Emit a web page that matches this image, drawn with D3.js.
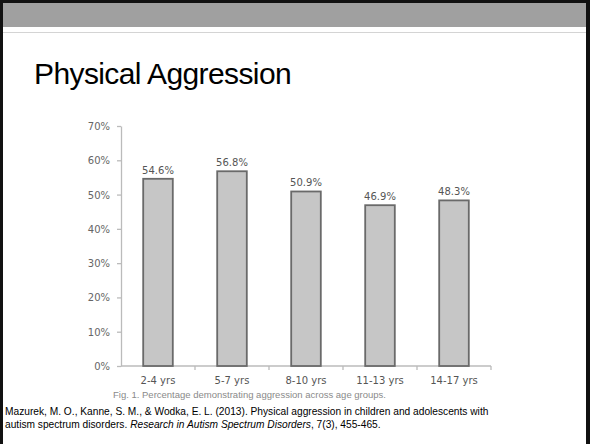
<!DOCTYPE html>
<html><head><meta charset="utf-8">
<script src="https://cdn.jsdelivr.net/npm/d3@7"></script>
<style>html,body{margin:0;padding:0;background:#fff;}svg{display:block;}</style>
</head><body>
<script>
const categories = ["2-4 yrs", "5-7 yrs", "8-10 yrs", "11-13 yrs", "14-17 yrs"];
const values = [54.6, 56.8, 50.9, 46.9, 48.3];
const yTicks = [0, 10, 20, 30, 40, 50, 60, 70];
const title = "Physical Aggression";
const caption = "Fig. 1. Percentage demonstrating aggression across age groups.";
const citation1 = "Mazurek, M. O., Kanne, S. M., & Wodka, E. L. (2013). Physical aggression in children and adolescents with";

const W = 590, H = 444;
const svg = d3.select("body").append("svg").attr("width", W).attr("height", H);

// slide frame
svg.append("rect").attr("x", 0).attr("y", 0).attr("width", W).attr("height", H).attr("fill", "#fff");
svg.append("rect").attr("x", 0).attr("y", 0).attr("width", W).attr("height", 27).attr("fill", "#a0a0a0");
svg.append("line").attr("x1", 3).attr("x2", 586).attr("y1", 32.5).attr("y2", 32.5).attr("stroke", "#d4d4d4").attr("stroke-width", 1.2);
svg.append("rect").attr("x", 0).attr("y", 0).attr("width", W).attr("height", 3).attr("fill", "#111");
svg.append("rect").attr("x", 0).attr("y", 0).attr("width", 3).attr("height", H).attr("fill", "#111");
svg.append("rect").attr("x", 586).attr("y", 0).attr("width", 4).attr("height", H).attr("fill", "#111");

svg.append("text").attr("x", 34).attr("y", 84).text(title)
  .attr("font-family", "Liberation Sans, Arial, sans-serif").attr("font-size", 30)
  .attr("letter-spacing", -0.6).attr("fill", "#000");

// chart
const x = d3.scaleBand().domain(categories).range([121, 491]).paddingInner(0.6).paddingOuter(0.3);
const y = d3.scaleLinear().domain([0, 70]).range([366, 126]);

const yAxis = d3.axisLeft(y).tickValues(yTicks).tickFormat(d => d + "%").tickSize(4).tickSizeOuter(0);
const gy = svg.append("g").attr("transform", "translate(121,0)").call(yAxis);
gy.select(".domain").attr("stroke", "#bbb").attr("stroke-width", 1.3);
gy.selectAll(".tick line").attr("stroke", "#bbb").attr("stroke-width", 1.3);
gy.selectAll(".tick text").attr("x", -11).attr("fill", "#666")
  .attr("font-family", "DejaVu Sans, sans-serif").attr("font-size", 10).attr("dy", "0.35em");

// x axis with ticks at band boundaries
const xb = d3.scaleLinear().domain([0, categories.length]).range([121, 491]);
svg.append("line").attr("x1", 121).attr("x2", 491).attr("y1", 366).attr("y2", 366).attr("stroke", "#bbb").attr("stroke-width", 1.3);
svg.selectAll(".xt").data(d3.range(1, categories.length + 1)).enter().append("line")
  .attr("x1", d => xb(d)).attr("x2", d => xb(d)).attr("y1", 366).attr("y2", 370)
  .attr("stroke", "#bbb").attr("stroke-width", 1.3);
svg.selectAll(".xl").data(categories).enter().append("text")
  .attr("x", d => x(d) + x.bandwidth() / 2).attr("y", 384).attr("text-anchor", "middle")
  .attr("font-family", "DejaVu Sans, sans-serif").attr("font-size", 10).attr("fill", "#555").text(d => d);

svg.selectAll(".bar").data(values).enter().append("rect")
  .attr("x", (d, i) => x(categories[i])).attr("width", x.bandwidth())
  .attr("y", d => y(d)).attr("height", d => y(0) - y(d))
  .attr("fill", "#c6c6c6").attr("stroke", "#6a6a6a").attr("stroke-width", 1.8);

svg.selectAll(".vl").data(values).enter().append("text")
  .attr("x", (d, i) => x(categories[i]) + x.bandwidth() / 2).attr("y", d => y(d) - 5)
  .attr("text-anchor", "middle").attr("font-family", "DejaVu Sans, sans-serif").attr("font-size", 10)
  .attr("fill", "#555").text(d => d.toFixed(1) + "%");

svg.append("text").attr("x", 113).attr("y", 398).text(caption)
  .attr("textLength", 273).attr("lengthAdjust", "spacing")
  .attr("font-family", "Liberation Sans, Arial, sans-serif").attr("font-size", 9.5).attr("fill", "#8a8a8a");

const cit = svg.append("g").attr("font-family", "Liberation Sans, Arial, sans-serif").attr("font-size", 10.2).attr("fill", "#000");
cit.append("text").attr("x", 5).attr("y", 415).text(citation1);
const t2 = cit.append("text").attr("x", 5).attr("y", 428);
t2.append("tspan").text("autism spectrum disorders. ");
t2.append("tspan").attr("font-style", "italic").text("Research in Autism Spectrum Disorders");
t2.append("tspan").text(", 7(3), 455-465.");
</script>
</body></html>
